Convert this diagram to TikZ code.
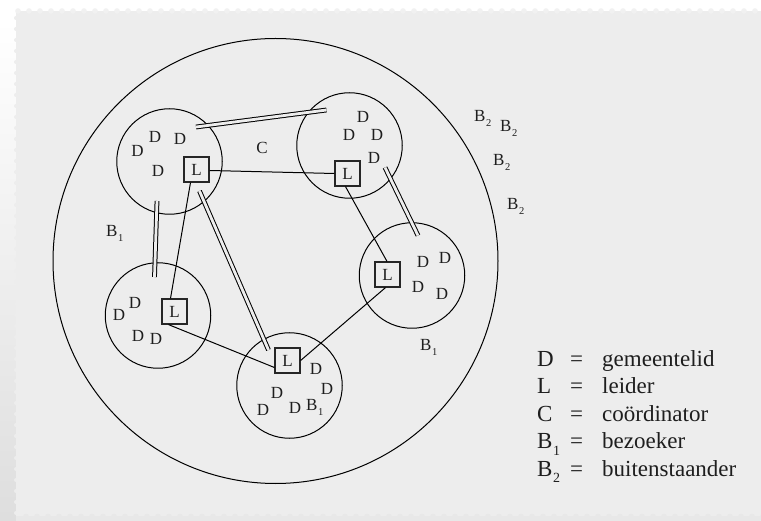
\documentclass[tikz,border=0pt]{standalone}
\usepackage{fontspec}
\usetikzlibrary{calc}
\setmainfont{Liberation Serif}
\definecolor{bgc}{HTML}{EDEDED}
\definecolor{inkc}{HTML}{1E1E1E}
\tikzset{
  lab/.style={inner sep=0pt,font=\fontsize{17}{17}\selectfont,text=inkc},
  leg/.style={inner sep=0pt,anchor=base west,font=\fontsize{23}{23}\selectfont,text=inkc},
  grp/.style={circle,draw=black,line width=1pt,minimum size=105.5pt,inner sep=0pt},
  lbox/.style={draw=black!85,line width=1.2pt,minimum size=25pt,inner sep=0pt,font=\fontsize{17}{17}\selectfont,text=inkc},
  link/.style={draw=black,line width=1pt},
  dbl/.style={draw=black,line width=1pt,double=bgc,double distance=2.8pt}
}
\newcommand{\bsub}[1]{B\raisebox{-5pt}{\kern.5pt\fontsize{10.5}{10.5}\selectfont #1}}
\newcommand{\bleg}[1]{B\raisebox{-6.5pt}{\kern.5pt\fontsize{14}{14}\selectfont #1}}
\begin{document}
\begin{tikzpicture}[x=1pt,y=-1pt]
\useasboundingbox (0,0) rectangle (761,521);
\fill[white] (0,0) rectangle (761,521);
\shade[left color=white,right color=black!13,shading angle=0] (0,20) rectangle (17,521);
\fill[black!9] (16,514) rectangle (761,521);
\fill[bgc] (16,11) rectangle (761,516);
\foreach \k in {0,...,67}{
  \fill[bgc!75!white] ({18+11*\k},11) circle (2.8);
  \fill[black!9] ({26+11*\k},516.5) circle (2.8);
}
\foreach \k in {0,...,45}{
  \fill[bgc] (16,{18+11*\k}) circle (2);
}
\node[grp,minimum size=445pt] (outer) at (275.5,261) {};
\node[grp] (g1) at (169.5,161.5) {};
\node[grp] (g2) at (349.5,145.5) {};
\node[grp] (g3) at (412,275.5) {};
\node[grp] (g4) at (158,315.5) {};
\node[grp] (g5) at (289.5,385.5) {};
\node[lbox] (l1) at (196.5,169.5) {L};
\node[lbox] (l2) at (347.5,173.5) {L};
\node[lbox] (l3) at (387.5,274.5) {L};
\node[lbox] (l4) at (174.5,311.5) {L};
\node[lbox] (l5) at (287.5,360.5) {L};
\draw[link] ($(l1.east)+(0,1)$) -- (l2.west);
\draw[link] ($(l1.south)+(-6,0)$) -- ($(l4.north)+(-4,0)$);
\draw[link] ($(l4.south)+(-6,0)$) -- ($(l5.west)+(0,7)$);
\draw[link] (l5.east) -- ($(l3.south)+(-2,0)$);
\draw[link] ($(l2.south)+(-2,0)$) -- ($(l3.north)+(-0.5,0)$);
\coordinate (a1) at (196,127); \coordinate (a2) at (326.5,110);
\coordinate (b1) at (157,201); \coordinate (b2) at (154.5,277);
\coordinate (c1) at (199.5,191); \coordinate (c2) at (268.5,350);
\coordinate (d1) at (385,167.5); \coordinate (d2) at (418,235.5);
\draw[dbl] (a1) -- (a2);
\draw[dbl] (b1) -- (b2);
\draw[dbl] (c1) -- (c2);
\draw[dbl] (d1) -- (d2);
% group 1
\node[lab] (t1) at (137.5,151) {D};
\node[lab] (t2) at (155,137) {D};
\node[lab] (t3) at (180,139) {D};
\node[lab] (t4) at (158,171) {D};
\node[lab] (tc) at (262,148) {C};
% group 2
\node[lab] (t5) at (363,117) {D};
\node[lab] (t6) at (349,135) {D};
\node[lab] (t7) at (377,135) {D};
\node[lab] (t8) at (374,158) {D};
% group 3
\node[lab] (t9) at (423,262) {D};
\node[lab] (t10) at (445,258) {D};
\node[lab] (t11) at (418,287) {D};
\node[lab] (t12) at (442,294) {D};
% group 4
\node[lab] (t13) at (119,315) {D};
\node[lab] (t14) at (135,303) {D};
\node[lab] (t15) at (138,336) {D};
\node[lab] (t16) at (156,339) {D};
% group 5
\node[lab] (t17) at (316,369) {D};
\node[lab] (t18) at (327,389) {D};
\node[lab] (t19) at (277,393) {D};
\node[lab] (t20) at (263,410) {D};
\node[lab] (t21) at (295,408) {D};
\node[lab,anchor=base west] (t22) at (306,411) {\bsub{1}};
% outsiders
\node[lab,anchor=base west] (t23) at (106,237) {\bsub{1}};
\node[lab,anchor=base west] (t24) at (420,351) {\bsub{1}};
\node[lab,anchor=base west] (t25) at (474,122) {\bsub{2}};
\node[lab,anchor=base west] (t26) at (500,132) {\bsub{2}};
\node[lab,anchor=base west] (t27) at (493,166) {\bsub{2}};
\node[lab,anchor=base west] (t28) at (507,210) {\bsub{2}};
% legend
\foreach \n/\yy/\k/\w in {a/367/D/gemeentelid,b/394/L/leider,c/422/C/coördinator}{
  \node[leg] (k\n) at (537,\yy) {\k};
  \node[leg] (e\n) at (570,\yy) {=};
  \node[leg] (w\n) at (602,\yy) {\w};
}
\node[leg] (kd) at (537,449) {\bleg{1}};
\node[leg] (ed) at (570,449) {=};
\node[leg] (wd) at (602,449) {bezoeker};
\node[leg] (ke) at (537,476) {\bleg{2}};
\node[leg] (ee) at (570,476) {=};
\node[leg] (we) at (602,476) {buitenstaander};
\end{tikzpicture}
\end{document}
